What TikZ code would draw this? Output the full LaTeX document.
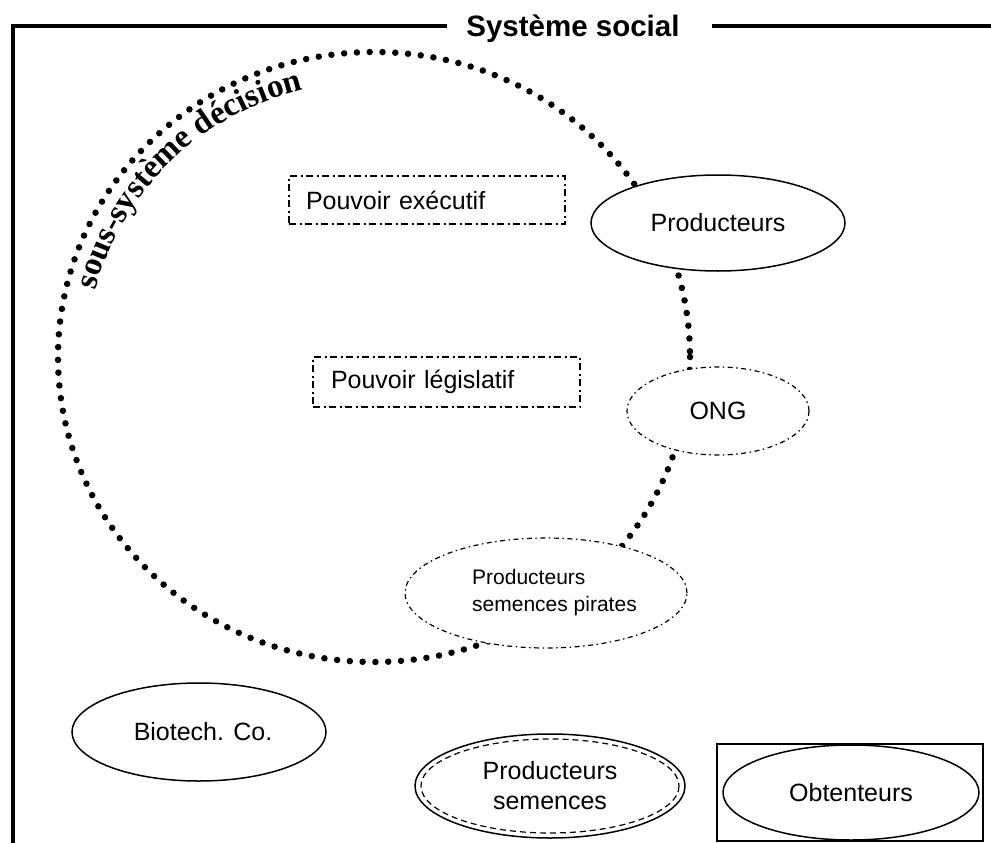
\documentclass[tikz,border=0pt]{standalone}
\usepackage{fontspec}
\setmainfont{Liberation Sans}
\newfontfamily\arcserif{Liberation Serif}
\usetikzlibrary{shapes.geometric,decorations.text}
\tikzset{
  frameline/.style={line width=4pt},
  dotring/.style={line width=6.5pt, line cap=round, dash pattern=on 0pt off 12.8pt},
  dashdotbox/.style={draw, rectangle, line width=1.6pt,
    dash pattern=on 7pt off 3.5pt on 2pt off 3.5pt,
    inner ysep=0pt, font=\fontsize{25}{30}\selectfont, align=left},
  solidell/.style={draw, ellipse, line width=1.5pt, fill=white, inner sep=0pt,
    font=\fontsize{25}{30}\selectfont, align=center},
  dashdotell/.style={solidell, line width=1.2pt,
    dash pattern=on 5pt off 3.5pt on 1.5pt off 3.5pt},
  labelsmall/.style={font=\fontsize{21}{27}\selectfont, align=left},
}
\begin{document}
\begin{tikzpicture}[x=1pt,y=-1pt]
\useasboundingbox (0,0) rectangle (991,843);
% title and frame
\node[anchor=base, font=\bfseries\fontsize{29.5}{32}\selectfont] (title) at (573,37) {Système social};
\draw[frameline] (447,26) -- (13,26) -- (13,843);
\draw[frameline] (712,26) -- (991,26);
% dotted decision sub-system
\draw[dotring] (374,357) ellipse [x radius=316, y radius=305];
\path[decorate, decoration={text along path,
   text={|\arcserif\bfseries\fontsize{33}{33}\selectfont|sous-système décision},
   text align=left}]
  (374,357) ++(194:287 and 276) arc[start angle=194, end angle=285, x radius=287, y radius=276];
% boxes
\node[dashdotbox, minimum width=276pt, minimum height=48pt, inner xsep=17pt, text width=242pt] (exec) at (427,200) {Pouvoir exécutif};
\node[dashdotbox, minimum width=267pt, minimum height=50pt, inner xsep=18pt, text width=231pt] (legis) at (446.5,382) {Pouvoir législatif};
% ellipses
\node[solidell, minimum width=254pt, minimum height=96pt] (prod) at (718,223) {Producteurs};
\node[dashdotell, minimum width=182pt, minimum height=88pt] (ong) at (718,411) {ONG};
\node[dashdotell, minimum width=282pt, minimum height=110pt, labelsmall] (pirates) at (546,593) {\hspace*{17pt}Producteurs\\\hspace*{17pt}semences pirates};
\node[solidell, minimum width=254pt, minimum height=98pt] (biotech) at (199,732) {\hspace*{8pt}Biotech. Co.};
\node[solidell, minimum width=270pt, minimum height=104pt] (prodsem) at (550,786) {Producteurs\\semences};
\draw[line width=1.2pt, dash pattern=on 6pt off 4pt] (prodsem.center) ellipse [x radius=129, y radius=47];
\node[draw, rectangle, line width=1.6pt, minimum width=266pt, minimum height=97pt, inner sep=0pt] (obtbox) at (850,792.5) {};
\node[solidell, minimum width=256pt, minimum height=95pt] (obt) at (851,792.5) {Obtenteurs};
\end{tikzpicture}
\end{document}
